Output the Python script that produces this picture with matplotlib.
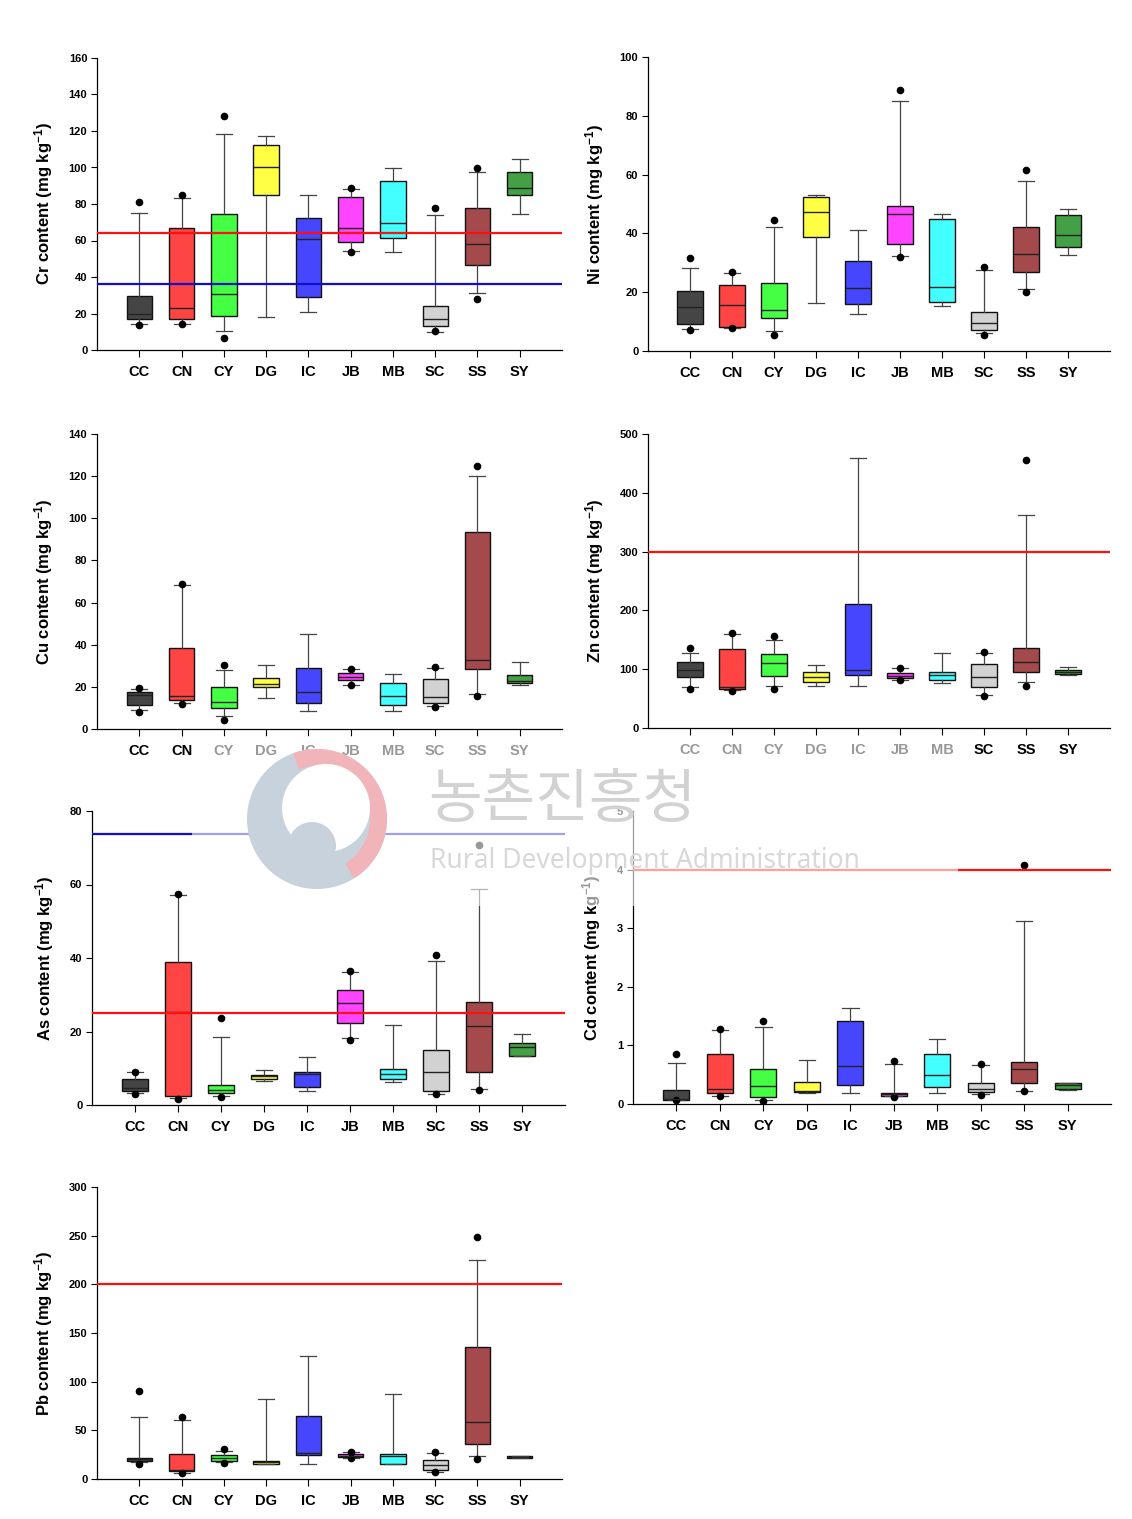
import numpy as np
import matplotlib
matplotlib.use('Agg')
import matplotlib.pyplot as plt
from matplotlib.patches import Circle, Wedge, Rectangle

plt.rcParams['font.family'] = ['Liberation Sans', 'DejaVu Sans']
plt.rcParams['font.weight'] = 'bold'
plt.rcParams['mathtext.fontset'] = 'custom'
plt.rcParams['mathtext.rm'] = 'Liberation Sans:bold'
plt.rcParams['mathtext.it'] = 'Liberation Sans:bold'
plt.rcParams['mathtext.bf'] = 'Liberation Sans:bold'

regions = ['CC', 'CN', 'CY', 'DG', 'IC', 'JB', 'MB', 'SC', 'SS', 'SY']
box_colors = ['#454545', '#ff4444', '#44ff44', '#ffff44', '#4646ff',
              '#ff44ff', '#44ffff', '#d2d2d2', '#a54a4c', '#44a044']

# per element: whisker low, q1, median, q3, whisker high, low dot, high dot
cr_wlo = [14, 14.3, 10.4, 18.1, 20.7, 54.4, 53.7, 10, 31.2, 74.6]
cr_q1 = [17, 17, 18.7, 85.2, 29, 59.2, 61.2, 13, 46.4, 85]
cr_med = [20, 23, 30.8, 100.4, 60.8, 66.7, 69.6, 16.9, 58.1, 88.7]
cr_q3 = [29.5, 66.7, 74.6, 112.4, 72.4, 84, 92.7, 24, 77.9, 97.5]
cr_whi = [75, 83.4, 118.6, 117.5, 84.7, 88.3, 99.9, 74, 97.7, 104.8]
cr_out_lo = [13.5, 14, 6.8, None, None, 53.9, None, 10.3, 28.2, None]
cr_out_hi = [81, 85, 128, None, None, 88.9, None, 77.7, 99.9, None]

ni_wlo = [7.6, 7.8, 6.9, 16.4, 12.7, 32.3, 15.4, 6.2, 21.1, 32.7]
ni_q1 = [9.2, 8.2, 11.3, 38.8, 16, 36.4, 16.7, 7.3, 26.9, 35.4]
ni_med = [15, 15.6, 14, 47.2, 21.5, 46.6, 21.7, 9.5, 33, 39.4]
ni_q3 = [20.3, 22.5, 23, 52.3, 30.6, 49.4, 44.9, 13.3, 42.1, 46.2]
ni_whi = [28.2, 26.6, 42.1, 53.2, 41, 84.9, 46.6, 27.7, 57.7, 48.2]
ni_out_lo = [7, 7.8, 5.5, None, None, 31.9, None, 5.3, 19.9, None]
ni_out_hi = [31.6, 26.8, 44.6, None, None, 88.8, None, 28.7, 61.6, None]

cu_wlo = [8.9, 12.2, 6.2, 14.6, 8.4, 21, 8.5, 11.1, 16.6, 21]
cu_q1 = [11.2, 13.6, 10, 19.9, 12.2, 23.3, 11.4, 12.3, 28.5, 21.7]
cu_med = [16.3, 15.5, 12.8, 21.4, 17.7, 24.7, 15.7, 15.2, 32.9, 22.9]
cu_q3 = [17.6, 38.3, 19.9, 24.2, 29, 26.4, 21.8, 23.7, 93.3, 25.5]
cu_whi = [19, 68.3, 28, 30.4, 45.1, 28.5, 26.1, 29.1, 120, 31.8]
cu_out_lo = [8.2, 12, 4.4, None, None, 20.7, None, 10.4, 15.7, None]
cu_out_hi = [19.3, 69, 30.5, None, None, 28.5, None, 29.4, 125, None]

zn_wlo = [69.7, 64, 71.4, 71.4, 71.4, 82.2, 76.5, 56.7, 78.2, 90.7]
zn_q1 = [86.7, 65.8, 88.4, 78.2, 89.6, 84.5, 81, 69.7, 95.8, 91.8]
zn_med = [99.2, 69, 110.5, 87.3, 99.2, 89, 89.6, 86.7, 112.2, 95.2]
zn_q3 = [112.2, 134.4, 125.9, 95.2, 210.9, 93, 95.2, 108.3, 135.5, 98.6]
zn_whi = [127.6, 160, 149.7, 107, 459, 101.5, 127.6, 127.6, 362, 103]
zn_out_lo = [66.3, 63.5, 65.8, None, None, 81, None, 55, 70.9, None]
zn_out_hi = [135.5, 161, 157, None, None, 102, None, 128.7, 455, None]

as_wlo = [3.3, 1.9, 2.5, 6.5, 3.8, 18.1, 6.2, 3.0, 4.3, 13.2]
as_q1 = [3.7, 2.4, 3.2, 7.2, 4.9, 22.3, 7.2, 3.7, 8.9, 13.2]
as_med = [4.7, 25.2, 4.2, 7.8, 8.5, 27.7, 8.5, 9.1, 21.4, 15.9]
as_q3 = [7.1, 39, 5.4, 8.2, 9.1, 31.4, 9.8, 14.9, 28, 16.8]
as_whi = [8.9, 57.1, 18.5, 9.5, 13, 36.3, 21.7, 39.1, 58.9, 19.3]
as_out_lo = [3.0, 1.7, 2.3, None, None, 17.8, None, 2.9, 4.0, None]
as_out_hi = [9, 57.3, 23.7, None, None, 36.4, None, 40.8, 70.7, None]

cd_wlo = [0.06, 0.14, 0.07, 0.18, 0.18, 0.13, 0.19, 0.17, 0.23, 0.24]
cd_q1 = [0.06, 0.18, 0.12, 0.2, 0.33, 0.14, 0.29, 0.21, 0.36, 0.26]
cd_med = [0.08, 0.26, 0.3, 0.23, 0.64, 0.17, 0.49, 0.26, 0.6, 0.32]
cd_q3 = [0.24, 0.85, 0.6, 0.375, 1.41, 0.19, 0.85, 0.36, 0.72, 0.35]
cd_whi = [0.7, 1.27, 1.31, 0.75, 1.64, 0.69, 1.11, 0.66, 3.13, 0.36]
cd_out_lo = [0.07, 0.13, 0.05, None, None, 0.125, None, 0.16, 0.23, None]
cd_out_hi = [0.86, 1.28, 1.41, None, None, 0.74, None, 0.68, 4.08, None]

pb_wlo = [17.1, 6.5, 17.1, 15.4, 15.4, 21.9, 15.4, 7.5, 23.6, 21.2]
pb_q1 = [18.8, 8.2, 18.4, 15.7, 24.6, 22.5, 15.4, 8.9, 35.9, 21.5]
pb_med = [20.5, 9.6, 21.9, 17.4, 26.3, 23.6, 23.6, 14.3, 58.1, 22.5]
pb_q3 = [21.9, 25.6, 24.9, 18.8, 64.6, 25.3, 25.3, 19.5, 135.3, 23.9]
pb_whi = [63.5, 60.5, 29, 82, 126, 27.3, 87.8, 26.3, 225.5, 23.9]
pb_out_lo = [15.7, 6.1, 16.1, None, None, 21.5, None, 7.2, 20.5, None]
pb_out_hi = [90.5, 63.5, 30.4, None, None, 27.7, None, 27.7, 248.7, None]

# reference lines (value, colour)
cr_lines = [(64, 'red'), (36.3, 'blue')]
zn_lines = [(300, 'red')]
as_lines = [(73.8, 'blue'), (25.1, 'red')]
cd_lines = [(4, 'red')]
pb_lines = [(200, 'red')]

line_colors = {'red': '#ff1010', 'blue': '#1010cc'}

panels = [
    ('Cr', cr_wlo, cr_q1, cr_med, cr_q3, cr_whi, cr_out_lo, cr_out_hi, 160, 20, cr_lines,
     [97, 58, 562, 350]),
    ('Ni', ni_wlo, ni_q1, ni_med, ni_q3, ni_whi, ni_out_lo, ni_out_hi, 100, 20, [],
     [648, 57, 1110, 351]),
    ('Cu', cu_wlo, cu_q1, cu_med, cu_q3, cu_whi, cu_out_lo, cu_out_hi, 140, 20, [],
     [97, 434, 562, 729]),
    ('Zn', zn_wlo, zn_q1, zn_med, zn_q3, zn_whi, zn_out_lo, zn_out_hi, 500, 100, zn_lines,
     [648, 434, 1110, 728]),
    ('As', as_wlo, as_q1, as_med, as_q3, as_whi, as_out_lo, as_out_hi, 80, 20, as_lines,
     [92, 811, 565, 1105]),
    ('Cd', cd_wlo, cd_q1, cd_med, cd_q3, cd_whi, cd_out_lo, cd_out_hi, 5, 1, cd_lines,
     [633, 811, 1111, 1104]),
    ('Pb', pb_wlo, pb_q1, pb_med, pb_q3, pb_whi, pb_out_lo, pb_out_hi, 300, 50, pb_lines,
     [97, 1187, 562, 1479]),
]

W, H = 1132, 1519
fig = plt.figure(figsize=(W / 100, H / 100), dpi=100)

for name, wlo, q1, med, q3, whi, olo, ohi, ymax, ystep, hlines, box in panels:
    x0, y0, x1, y1 = box
    ax = fig.add_axes([x0 / W, 1 - y1 / H, (x1 - x0) / W, (y1 - y0) / H])
    stats = []
    for i in range(len(regions)):
        fl = [v for v in (olo[i], ohi[i]) if v is not None]
        stats.append(dict(whislo=wlo[i], q1=q1[i], med=med[i], q3=q3[i],
                          whishi=whi[i], fliers=fl))
    bp = ax.bxp(stats, positions=range(1, 11), widths=0.6, capwidths=0.38,
                patch_artist=True, showfliers=True,
                boxprops=dict(edgecolor='#111111', linewidth=1.0),
                medianprops=dict(color='#222222', linewidth=1.0),
                whiskerprops=dict(color='#444444', linewidth=0.9),
                capprops=dict(color='#444444', linewidth=0.9),
                flierprops=dict(marker='o', markerfacecolor='black',
                                markeredgecolor='black', markersize=4.5))
    for patch, c in zip(bp['boxes'], box_colors):
        patch.set_facecolor(c)
    for val, c in hlines:
        ax.axhline(val, color=line_colors[c], linewidth=1.6, zorder=5)

    ax.set_xlim(0, 11)
    ax.set_ylim(0, ymax)
    ax.set_yticks(np.arange(0, ymax + ystep / 2, ystep))
    ax.set_xticks(range(1, 11))
    ax.set_xticklabels(regions, fontsize=10.5, fontweight='bold')
    ax.tick_params(axis='y', labelsize=8, length=4, width=0.8, direction='out', pad=3)
    ax.tick_params(axis='x', length=5, width=0.8, direction='out', pad=6)
    for lab in ax.get_yticklabels():
        lab.set_fontweight('bold')
    for s in ('top', 'right'):
        ax.spines[s].set_visible(False)
    for s in ('left', 'bottom'):
        ax.spines[s].set_linewidth(0.9)
    ax.set_ylabel(name + ' content (mg kg$^{-1}$)', fontsize=12, fontweight='bold', labelpad=10)

# watermark overlay (faded band, logo, agency name)
wm = fig.add_axes([0, 0, 1, 1], zorder=20)
wm.set_xlim(0, W)
wm.set_ylim(H, 0)
wm.axis('off')
wm.patch.set_alpha(0)
wm.add_patch(Rectangle((192, 736), 766, 170, facecolor='white', edgecolor='none', alpha=0.6))
wm.add_patch(Circle((317, 819), 70, facecolor='#c8d2dd', edgecolor='none'))
wm.add_patch(Wedge((317, 819), 70, -110, 58, width=17, facecolor='#f1b4b9', edgecolor='none'))
wm.add_patch(Circle((326, 808), 44, facecolor='white', edgecolor='none'))
wm.add_patch(Circle((312, 846), 24, facecolor='#c8d2dd', edgecolor='none'))
wm.text(562, 800, '농촌진흥청', fontsize=42, color='#d2d2d2',
        family=['Noto Sans CJK KR', 'DejaVu Sans'], fontweight='normal',
        ha='center', va='center')
wm.text(645, 861, 'Rural Development Administration', fontsize=19, color='#d8d8d8',
        family=['Noto Sans', 'DejaVu Sans'], fontweight='normal',
        ha='center', va='center')

fig.savefig('out.png', dpi=100)
